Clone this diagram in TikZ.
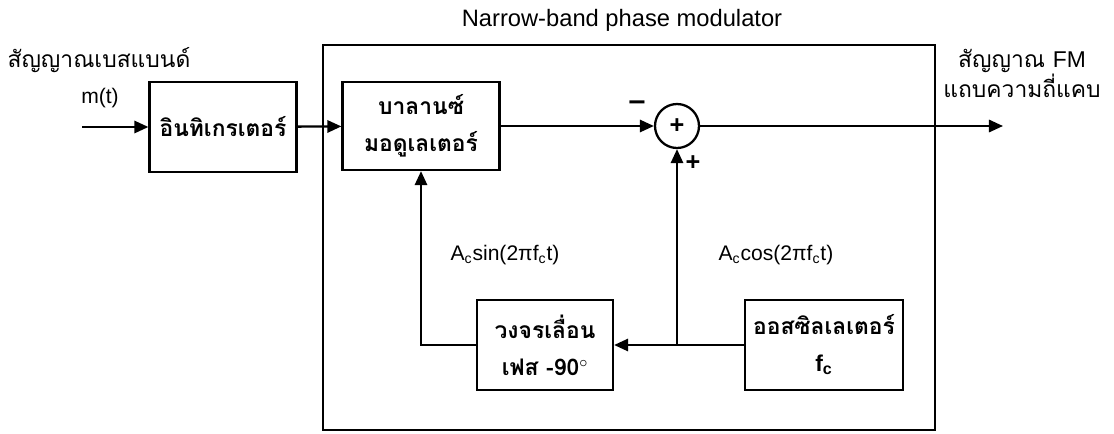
\documentclass[tikz,border=0pt]{standalone}
\usepackage{fontspec}
\setmainfont{Liberation Sans}
\newfontfamily\thai[Script=Thai]{Loma}
\usetikzlibrary{arrows.meta, positioning, calc}
\tikzset{
  every picture/.style={line width=1.1pt},
  block/.style={draw, line width=1.3pt, align=center, inner sep=2pt, font=\thai\bfseries\fontsize{13}{21}\selectfont},
  sumpt/.style={draw, circle, line width=1.3pt, minimum size=0.88cm, inner sep=0pt, font=\bfseries\Large},
  arrow/.style={-{Triangle[length=8pt, width=7pt]}, line width=1.3pt},
  lbl/.style={font=\fontsize{12}{14}\selectfont},
  tlbl/.style={font=\thai\fontsize{13}{17}\selectfont, align=center},
}

\begin{document}
\begin{tikzpicture}[x=0.02cm, y=-0.02cm]
  \useasboundingbox (0,0) rectangle (1114,433);
  % phase modulator frame
  \draw[line width=0.7pt] (323,45) rectangle (935,430);
  \node[font=\fontsize{13.5}{16}\selectfont] (title) at (622,20) {Narrow-band phase modulator};
  % blocks
  \node[block, minimum width=2.94cm, minimum height=1.8cm] (integ) at (223,127) {อินทิเกรเตอร์};
  \node[block, minimum width=3.14cm, minimum height=1.76cm] (balmod) at (421,126) {บาลานซ์\\มอดูเลเตอร์};
  \node[sumpt] (sum) at (677,126) {+};
  \node[block, minimum width=2.72cm, minimum height=1.8cm] (shift) at (545,345) {วงจรเลื่อน\\เฟส -90$^{\circ}$};
  \node[block, minimum width=3.16cm, minimum height=1.8cm] (osc) at (824,345) {ออสซิลเลเตอร์\\{\rmfamily\bfseries f\textsubscript{c}}};
  \coordinate (in) at (82,127);
  \coordinate (out) at (1003,126);
  \coordinate (tap) at (sum |- osc.west);
  \coordinate (bend) at (balmod |- shift.west);
  % connectors
  \draw[arrow] (in) -- (integ);
  \draw[arrow] (integ) -- (balmod);
  \draw[arrow] (balmod) -- (sum);
  \draw[arrow] (sum) -- (out);
  \draw[arrow] (osc.west) -- (shift.east);
  \draw[arrow] (tap) -- (sum);
  \draw[arrow] (shift.west) -- (bend) -- (balmod.south);
  % labels
  \node[tlbl] (bb) at (99,60) {สัญญาณเบสแบนด์};
  \node[lbl] (mt) at (100,98) {m(t)};
  \node[font=\bfseries\LARGE] (minus) at (637,106) {–};
  \node[font=\bfseries\Large] (plus) at (693,163) {+};
  \node[lbl] (sinlbl) at (505,255) {A\textsubscript{c}sin(2πf\textsubscript{c}t)};
  \node[lbl] (coslbl) at (776,255) {A\textsubscript{c}cos(2πf\textsubscript{c}t)};
  \node[tlbl] (fm) at (1022,73) {สัญญาณ {\rmfamily FM}\\แถบความถี่แคบ};
\end{tikzpicture}
\end{document}
